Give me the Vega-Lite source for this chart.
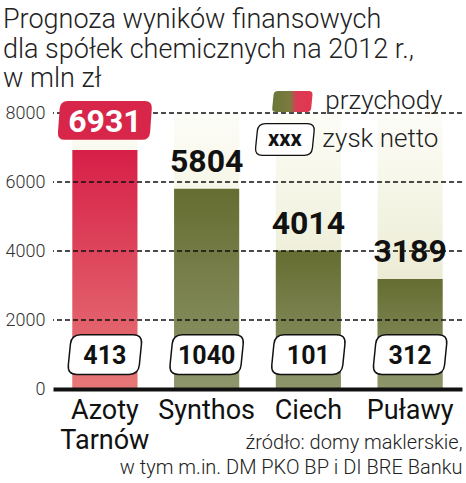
{
  "$schema": "https://vega.github.io/schema/vega-lite/v6.json",
  "width": 409,
  "height": 276,
  "autosize": {"type": "none"},
  "padding": {"left": 53, "top": 113, "right": 4, "bottom": 94},
  "background": "white",
  "config": {"view": {"stroke": null}},
  "title": {
    "text": ["Prognoza wyników finansowych", "dla spółek chemicznych na 2012 r.,", "w mln zł"],
    "anchor": "start",
    "frame": "group",
    "font": "Roboto",
    "fontWeight": 300,
    "fontSize": 27,
    "color": "#222222",
    "lineHeight": 29.5,
    "dx": -50,
    "dy": 9,
    "offset": 4
  },
  "datasets": {
    "firmy": [
      {"firma": "Azoty Tarnów", "przychody": 6931, "zysk": 413},
      {"firma": "Synthos", "przychody": 5804, "zysk": 1040},
      {"firma": "Ciech", "przychody": 4014, "zysk": 101},
      {"firma": "Puławy", "przychody": 3189, "zysk": 312}
    ],
    "siatka": [{"v": 2000}, {"v": 4000}, {"v": 6000}, {"v": 8000}],
    "legenda": [{"przychody": "przychody", "zysk": "zysk netto", "wzor": "xxx"}]
  },
  "data": {"name": "firmy"},
  "encoding": {
    "x": {
      "field": "firma",
      "type": "nominal",
      "sort": ["Azoty Tarnów", "Synthos", "Ciech", "Puławy"],
      "scale": {"paddingInner": 0.36, "paddingOuter": 0.19},
      "axis": {
        "labelAngle": 0,
        "labelExpr": "datum.value === 'Azoty Tarnów' ? ['Azoty', 'Tarnów'] : datum.value",
        "labelFont": "Roboto",
        "labelFontWeight": 400,
        "labelFontSize": 27,
        "labelColor": "#111111",
        "labelLineHeight": 30,
        "labelPadding": 8,
        "ticks": false,
        "grid": false,
        "domain": true,
        "domainColor": "#111111",
        "domainWidth": 4,
        "zindex": 1,
        "title": ["źródło: domy maklerskie,", "w tym m.in. DM PKO BP i DI BRE Banku"],
        "titleFont": "Roboto",
        "titleFontWeight": 300,
        "titleFontSize": 20,
        "titleColor": "#222222",
        "titleLineHeight": 25,
        "titleAnchor": "end",
        "titleAlign": "right",
        "titleBaseline": "alphabetic",
        "titleX": 409,
        "titleY": 59
      }
    }
  },
  "layer": [
    {
      "mark": {
        "type": "rect",
        "fill": {"gradient": "linear", "x1": 0, "y1": 0, "x2": 0, "y2": 1,
          "stops": [{"offset": 0, "color": "#fdfdf8"}, {"offset": 0.3, "color": "#f5f5e6"}, {"offset": 1, "color": "#dfe0c0"}]}
      },
      "encoding": {
        "y": {"datum": 8000, "type": "quantitative", "scale": {"domain": [0, 8000], "nice": false}, "axis": {
          "values": [0, 2000, 4000, 6000, 8000], "format": "d",
          "labelFont": "Roboto", "labelFontWeight": 300, "labelFontSize": 18, "labelColor": "#333333",
          "labelPadding": 8, "ticks": false, "domain": false, "grid": false, "title": null}},
        "y2": {"datum": 0}
      }
    },
    {
      "transform": [{"filter": "datum.firma === 'Azoty Tarnów'"}],
      "mark": {
        "type": "bar",
        "fill": {"gradient": "linear", "x1": 0, "y1": 0, "x2": 0, "y2": 1,
          "stops": [{"offset": 0, "color": "#d71f47"}, {"offset": 1, "color": "#e67878"}]}
      },
      "encoding": {"y": {"field": "przychody", "type": "quantitative"}}
    },
    {
      "transform": [{"filter": "datum.firma !== 'Azoty Tarnów'"}],
      "mark": {
        "type": "bar",
        "fill": {"gradient": "linear", "x1": 0, "y1": 0, "x2": 0, "y2": 1,
          "stops": [{"offset": 0, "color": "#666d31"}, {"offset": 1, "color": "#8e966c"}]}
      },
      "encoding": {"y": {"field": "przychody", "type": "quantitative"}}
    },
    {
      "data": {"name": "siatka"},
      "mark": {"type": "rule", "color": "#111111", "strokeWidth": 1.5, "strokeDash": [5, 3]},
      "encoding": {"x": null, "y": {"field": "v", "type": "quantitative"}}
    },
    {
      "transform": [{"filter": "datum.firma !== 'Azoty Tarnów'"}],
      "mark": {"type": "text", "font": "Roboto", "fontWeight": "bold", "fontSize": 32, "color": "#111111", "baseline": "alphabetic", "dy": -17},
      "encoding": {"y": {"field": "przychody", "type": "quantitative"}, "text": {"field": "przychody", "type": "quantitative", "format": "d"}}
    },
    {
      "transform": [{"filter": "datum.firma === 'Azoty Tarnów'"}],
      "mark": {"type": "point", "filled": true, "opacity": 1, "fill": "#d8264b", "strokeWidth": 0, "size": 9025, "yOffset": -29.5,
        "shape": "M -0.78 -0.41 L 0.84 -0.41 Q 1 -0.41 0.988 -0.25 L 0.952 0.25 Q 0.94 0.41 0.78 0.41 L -0.84 0.41 Q -1 0.41 -0.988 0.25 L -0.952 -0.25 Q -0.94 -0.41 -0.78 -0.41 Z"},
      "encoding": {"y": {"field": "przychody", "type": "quantitative"}}
    },
    {
      "transform": [{"filter": "datum.firma === 'Azoty Tarnów'"}],
      "mark": {"type": "text", "font": "Roboto", "fontWeight": "bold", "fontSize": 32, "color": "#ffffff", "baseline": "alphabetic", "dy": -18},
      "encoding": {"y": {"field": "przychody", "type": "quantitative"}, "text": {"field": "przychody", "type": "quantitative", "format": "d"}}
    },
    {
      "mark": {"type": "point", "filled": true, "opacity": 1, "fill": "#ffffff", "stroke": "#111111", "strokeWidth": 1.5, "size": 5625,
        "shape": "M -0.644 -0.53 L 0.75 -0.53 Q 1 -0.53 0.975 -0.281 L 0.919 0.281 Q 0.894 0.53 0.644 0.53 L -0.75 0.53 Q -1 0.53 -0.975 0.281 L -0.919 -0.281 Q -0.894 -0.53 -0.644 -0.53 Z"},
      "encoding": {"y": {"datum": 1000, "type": "quantitative"}}
    },
    {
      "mark": {"type": "text", "font": "Roboto", "fontWeight": "bold", "fontSize": 25, "color": "#111111", "baseline": "alphabetic", "dy": 9.5},
      "encoding": {"y": {"datum": 1000, "type": "quantitative"}, "text": {"field": "zysk", "type": "quantitative", "format": "d"}}
    },
    {
      "data": {"name": "legenda"},
      "mark": {"type": "point", "filled": true, "opacity": 1, "strokeWidth": 0, "size": 1681, "xOffset": -16, "yOffset": -11.5,
        "fill": {"gradient": "linear", "x1": 0, "y1": 0, "x2": 1, "y2": 0,
          "stops": [{"offset": 0, "color": "#6a7737"}, {"offset": 0.45, "color": "#7d7a40"}, {"offset": 0.6, "color": "#dc3a55"}, {"offset": 1, "color": "#e23650"}]},
        "shape": "M -0.7 -0.51 L 0.8 -0.51 Q 1 -0.51 0.98 -0.311 L 0.92 0.311 Q 0.9 0.51 0.7 0.51 L -0.8 0.51 Q -1 0.51 -0.98 0.311 L -0.92 -0.311 Q -0.9 -0.51 -0.7 -0.51 Z"},
      "encoding": {"x": {"datum": "Ciech"}, "y": {"datum": 8000, "type": "quantitative"}}
    },
    {
      "data": {"name": "legenda"},
      "mark": {"type": "text", "font": "Roboto", "fontWeight": 300, "fontSize": 26, "color": "#222222", "align": "left", "baseline": "alphabetic", "dx": 17, "dy": -4},
      "encoding": {"x": {"datum": "Ciech"}, "y": {"datum": 8000, "type": "quantitative"}, "text": {"field": "przychody"}}
    },
    {
      "data": {"name": "legenda"},
      "mark": {"type": "point", "filled": true, "opacity": 1, "fill": "#ffffff", "stroke": "#111111", "strokeWidth": 1.3, "size": 3600, "xOffset": -23.5, "yOffset": 26.5,
        "shape": "M -0.644 -0.53 L 0.75 -0.53 Q 1 -0.53 0.975 -0.281 L 0.919 0.281 Q 0.894 0.53 0.644 0.53 L -0.75 0.53 Q -1 0.53 -0.975 0.281 L -0.919 -0.281 Q -0.894 -0.53 -0.644 -0.53 Z"},
      "encoding": {"x": {"datum": "Ciech"}, "y": {"datum": 8000, "type": "quantitative"}}
    },
    {
      "data": {"name": "legenda"},
      "mark": {"type": "text", "font": "Roboto", "fontWeight": "bold", "fontSize": 22, "color": "#111111", "align": "center", "baseline": "alphabetic", "dx": -23.5, "dy": 32.5},
      "encoding": {"x": {"datum": "Ciech"}, "y": {"datum": 8000, "type": "quantitative"}, "text": {"field": "wzor"}}
    },
    {
      "data": {"name": "legenda"},
      "mark": {"type": "text", "font": "Roboto", "fontWeight": 300, "fontSize": 26, "color": "#222222", "align": "left", "baseline": "alphabetic", "dx": 14, "dy": 34},
      "encoding": {"x": {"datum": "Ciech"}, "y": {"datum": 8000, "type": "quantitative"}, "text": {"field": "zysk"}}
    }
  ]
}
